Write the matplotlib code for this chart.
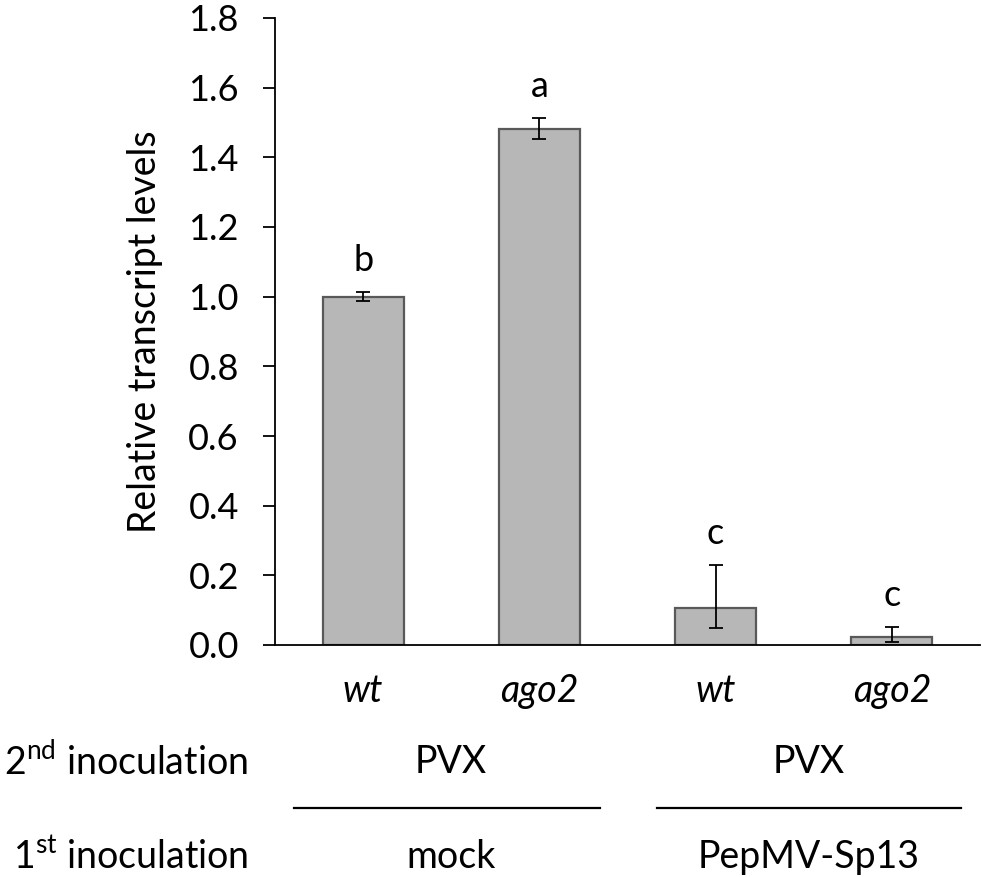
import matplotlib
matplotlib.use("Agg")
import matplotlib.pyplot as plt

plt.rcParams["font.family"] = ["Lato", "DejaVu Sans"]

# Werte
genotypes = ["wt", "ago2", "wt", "ago2"]
values = [1.00, 1.48, 0.105, 0.022]
err_low = [0.012, 0.028, 0.057, 0.012]
err_high = [0.012, 0.032, 0.125, 0.029]
letters = ["b", "a", "c", "c"]
second_inoc = ["PVX", "PVX"]
first_inoc = ["mock", "PepMV-Sp13"]

fig = plt.figure(figsize=(9.82, 8.77), dpi=100)
ax = fig.add_axes([275 / 982, 232 / 877, 705 / 982, 627 / 877])

x = range(len(values))
ax.bar(x, values, width=0.46, color="#b7b7b7", edgecolor="#595959", linewidth=1.6)
ax.errorbar(x, values, yerr=[err_low, err_high], fmt="none", ecolor="black",
            elinewidth=1.3, capsize=4.7, capthick=1.3)

for i, (v, e, l) in enumerate(zip(values, err_high, letters)):
    ax.annotate(l, (i, v + e), xytext=(0, 11), textcoords="offset points",
                ha="center", va="bottom", fontsize=26)

ax.set_xlim(-0.5, 3.5)
ax.set_ylim(0, 1.8)
ax.set_yticks([0, 0.2, 0.4, 0.6, 0.8, 1.0, 1.2, 1.4, 1.6, 1.8])
ax.set_yticklabels([f"{t:.1f}" for t in ax.get_yticks()])
ax.set_xticks(list(x))
ax.set_xticklabels(genotypes, style="italic")
ax.tick_params(axis="x", length=0, pad=20, labelsize=27)
ax.tick_params(axis="y", direction="out", length=9, width=1.3, pad=17, labelsize=26)
ax.set_ylabel("Relative transcript levels", fontsize=27, labelpad=18)

for s in ["top", "right"]:
    ax.spines[s].set_visible(False)
ax.spines["left"].set_linewidth(1.3)
ax.spines["bottom"].set_linewidth(1.3)

# Beschriftung der Inokulationen unterhalb der Achse
tr = ax.get_xaxis_transform()
for k, (lab2, lab1) in enumerate(zip(second_inoc, first_inoc)):
    xc = 2 * k + 0.5 + (0.03 if k else 0)
    ax.text(xc, -0.187, lab2, transform=tr, ha="center", va="center", fontsize=27)
    ax.text(xc, -0.338, lab1, transform=tr, ha="center", va="center", fontsize=27)
ax.plot([-0.39, 1.345], [-0.26, -0.26], transform=tr, color="black", lw=1.6, clip_on=False)
ax.plot([1.667, 3.395], [-0.26, -0.26], transform=tr, color="black", lw=1.6, clip_on=False)

fig.text(248 / 982, 1 - 762 / 877, "2$^{\\mathregular{nd}}$ inoculation", ha="right", va="center", fontsize=27)
fig.text(248 / 982, 1 - 857 / 877, "1$^{\\mathregular{st}}$ inoculation", ha="right", va="center", fontsize=27)

fig.savefig("out.png", dpi=100)
